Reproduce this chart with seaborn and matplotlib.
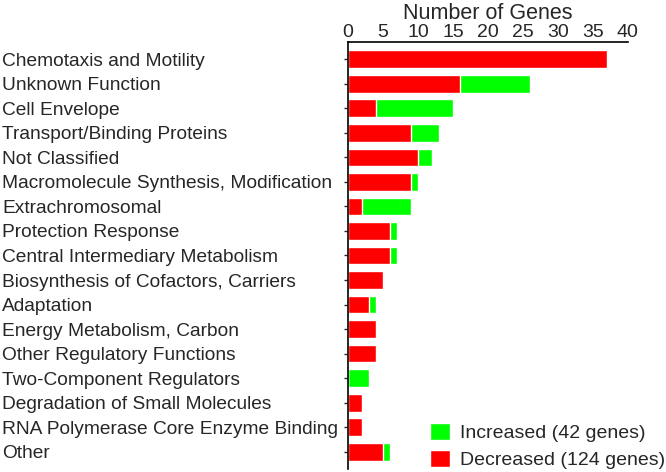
import pandas as pd
import matplotlib
matplotlib.use("Agg")
import matplotlib.pyplot as plt
import seaborn as sns

# Gene categories and counts
categories = [
    "Chemotaxis and Motility",
    "Unknown Function",
    "Cell Envelope",
    "Transport/Binding Proteins",
    "Not Classified",
    "Macromolecule Synthesis, Modification",
    "Extrachromosomal",
    "Protection Response",
    "Central Intermediary Metabolism",
    "Biosynthesis of Cofactors, Carriers",
    "Adaptation",
    "Energy Metabolism, Carbon",
    "Other Regulatory Functions",
    "Two-Component Regulators",
    "Degradation of Small Molecules",
    "RNA Polymerase Core Enzyme Binding",
    "Other",
]
decreased = [37, 16, 4, 9, 10, 9, 2, 6, 6, 5, 3, 4, 4, 0, 2, 2, 5]
increased = [0, 10, 11, 4, 2, 1, 7, 1, 1, 0, 1, 0, 0, 3, 0, 0, 1]

df = pd.DataFrame({"category": categories, "decreased": decreased, "increased": increased})
df["total"] = df["decreased"] + df["increased"]

sns.set_style("white")
plt.rcParams["font.family"] = ["Liberation Sans", "DejaVu Sans"]

fig = plt.figure(figsize=(6.66, 4.72), dpi=100)
ax = fig.add_axes([0.5225, 0.0064, 0.42, 0.9046])

# stacked bars: total in green, decreased in red drawn over it
sns.barplot(data=df, y="category", x="total", color="#00ff00", saturation=1,
            width=0.72, ax=ax, label="Increased (42 genes)")
sns.barplot(data=df, y="category", x="decreased", color="#ff0000", saturation=1,
            width=0.72, ax=ax, label="Decreased (124 genes)")

ax.set_xlim(0, 40)
ax.set_ylim(16.7, -0.7)
ax.set_xticks(range(0, 41, 5))
ax.xaxis.tick_top()
ax.xaxis.set_label_position("top")
ax.set_xlabel("Number of Genes", fontsize=15.5, labelpad=3)
ax.set_ylabel("")
ax.tick_params(axis="x", labelsize=14, length=0, pad=1)
ax.tick_params(axis="y", labelsize=13.8, length=3, width=1, left=True, pad=246)
for lbl in ax.get_yticklabels():
    lbl.set_horizontalalignment("left")
for side in ["right", "bottom"]:
    ax.spines[side].set_visible(False)
for side in ["left", "top"]:
    ax.spines[side].set_color("black")
    ax.spines[side].set_linewidth(1.2)

ax.legend(loc="lower right", bbox_to_anchor=(0.998, 0.006), bbox_transform=fig.transFigure,
          frameon=False, fontsize=14, handlelength=1.0, handleheight=1.0,
          borderaxespad=0, borderpad=0, labelspacing=0.4, handletextpad=0.5)

fig.savefig("out.png", dpi=100)
